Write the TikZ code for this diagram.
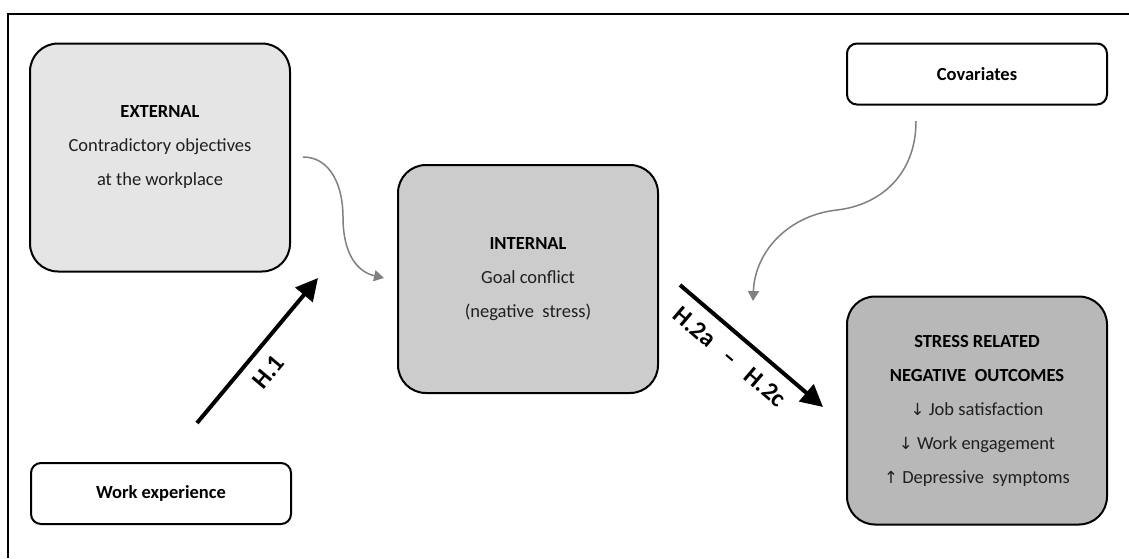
\documentclass[tikz,border=0pt]{standalone}
\usepackage{fontspec}
\setmainfont{Carlito}
\newfontfamily\arrowfont[Scale=0.9]{DejaVu Sans}
\usetikzlibrary{arrows.meta, positioning}

\definecolor{extgray}{gray}{0.90}
\definecolor{intgray}{gray}{0.80}
\definecolor{outgray}{gray}{0.72}
\definecolor{txtgray}{gray}{0.12}
\definecolor{curvegray}{gray}{0.50}

\begin{document}
\begin{tikzpicture}[x=1pt, y=-1pt,
  bigbox/.style={draw, line width=2pt, rounded corners=28pt, minimum width=260pt, minimum height=228pt, align=center, text=txtgray, font=\fontsize{18.5}{34}\selectfont},
  smallbox/.style={draw, line width=2pt, rounded corners=10pt, minimum width=260pt, minimum height=61pt, font=\fontsize{18.5}{22}\selectfont\bfseries},
  hyparrow/.style={line width=4pt, -{Triangle[length=22pt, width=22pt]}},
  softarrow/.style={draw=curvegray, line width=1.5pt, -{Triangle[length=10pt, width=11pt]}},
  hyplabel/.style={font=\fontsize{25}{28}\selectfont\bfseries, sloped, inner sep=2pt}]
\useasboundingbox (0,0) rectangle (1129,558);
\draw [line width=1.5pt] (8,558) -- (8,14) -- (1129,14);

% boxes
\node [bigbox, fill=extgray, text depth=25pt] (external) at (160,157.5) {\textcolor{black}{\bfseries EXTERNAL}\\Contradictory objectives\\at the workplace};
\node [bigbox, fill=intgray] (internal) at (528,279) {\textcolor{black}{\bfseries INTERNAL}\\Goal conflict\\(negative~ stress)};
\node [bigbox, fill=outgray] (outcomes) at (977,410.5) {\textcolor{black}{\bfseries STRESS RELATED}\\\textcolor{black}{\bfseries NEGATIVE~ OUTCOMES}\\{\arrowfont ↓} Job satisfaction\\{\arrowfont ↓} Work engagement\\{\arrowfont ↑} Depressive~ symptoms};
\node [smallbox] (workexp) at (161,493.5) {Work experience};
\node [smallbox] (covariates) at (977,74) {Covariates};

% connectors
\coordinate (h1tail) at (197,423);
\coordinate (h1tip) at (318,278);
\coordinate (h2tail) at (680,285);
\coordinate (h2tip) at (823,407);
\coordinate (extout) at (303,157);
\coordinate (intin) at (384,278);
\coordinate (covout) at (916,121);
\coordinate (outin) at (753,301);

\draw [hyparrow] (h1tail) -- node [hyplabel, below=10pt, pos=0.45] (h1label) {H.1} (h1tip);
\draw [hyparrow] (h2tail) -- node [hyplabel, below=10pt, pos=0.45] (h2label) {H.2a ~~–~~ H.2c} (h2tip);
\draw [softarrow] (extout) .. controls (330,157) and (343,185) .. (343,217) .. controls (343,255) and (358,272) .. (intin);
\draw [softarrow] (covout) .. controls (916,175) and (880,205) .. (837,210) .. controls (790,215) and (755,250) .. (outin);
\end{tikzpicture}
\end{document}
